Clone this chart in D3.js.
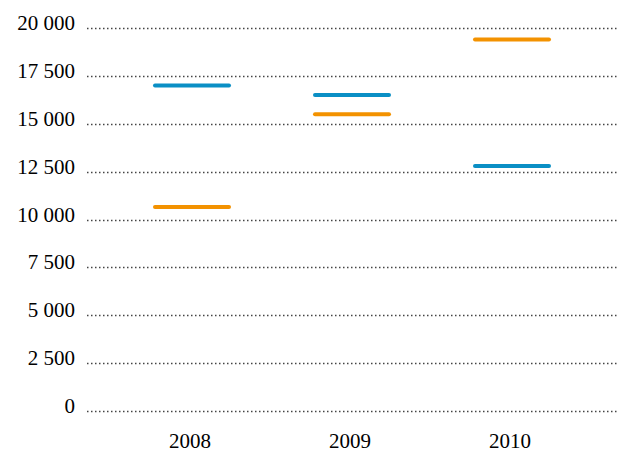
<!DOCTYPE html>
<html>
<head>
<meta charset="utf-8">
<script src="https://cdn.jsdelivr.net/npm/d3@7"></script>
<style>
  body { margin: 0; background: #fff; }
  text { font-family: "Liberation Serif", serif; font-size: 21px; fill: #000; }
</style>
</head>
<body>
<script>
// data
var years = ["2008", "2009", "2010"];
var blueValues = [17000, 16500, 12800];
var orangeValues = [10650, 15500, 19400];
var yTicks = [0, 2500, 5000, 7500, 10000, 12500, 15000, 17500, 20000];

var width = 619, height = 452;

var svg = d3.select("body").append("svg")
    .attr("width", width)
    .attr("height", height);

// scales
var x = d3.scaleBand().domain(years).range([112, 592]);
var y = d3.scaleLinear().domain([0, 20000]).range([411, 28]);

var fmt = function(d) { return d3.format(",")(d).replace(/,/g, " "); };

// dotted gridlines
svg.append("g").selectAll("line")
    .data(yTicks)
  .enter().append("line")
    .attr("x1", 87)
    .attr("x2", width)
    .attr("y1", function(d) { return Math.round(y(d)) + 0.5; })
    .attr("y2", function(d) { return Math.round(y(d)) + 0.5; })
    .attr("stroke", "#444")
    .attr("stroke-width", 1.3)
    .attr("stroke-dasharray", "1.5,2.5");

// y labels
svg.append("g").selectAll("text")
    .data(yTicks)
  .enter().append("text")
    .attr("x", 75)
    .attr("y", function(d) { return y(d) + 2; })
    .attr("text-anchor", "end")
    .text(fmt);

// x labels
svg.append("g").selectAll("text")
    .data(years)
  .enter().append("text")
    .attr("x", function(d) { return x(d) + x.bandwidth() / 2 - 2; })
    .attr("y", 448)
    .attr("text-anchor", "middle")
    .text(function(d) { return d; });

// marks
var half = 37;
function drawSeries(values, color) {
  svg.append("g").selectAll("line")
      .data(values)
    .enter().append("line")
      .attr("x1", function(d, i) { return x(years[i]) + x.bandwidth() / 2 - half; })
      .attr("x2", function(d, i) { return x(years[i]) + x.bandwidth() / 2 + half; })
      .attr("y1", function(d) { return y(d); })
      .attr("y2", function(d) { return y(d); })
      .attr("stroke", color)
      .attr("stroke-width", 4)
      .attr("stroke-linecap", "round");
}
drawSeries(blueValues, "#0a8fc5");
drawSeries(orangeValues, "#f39200");
</script>
</body>
</html>
